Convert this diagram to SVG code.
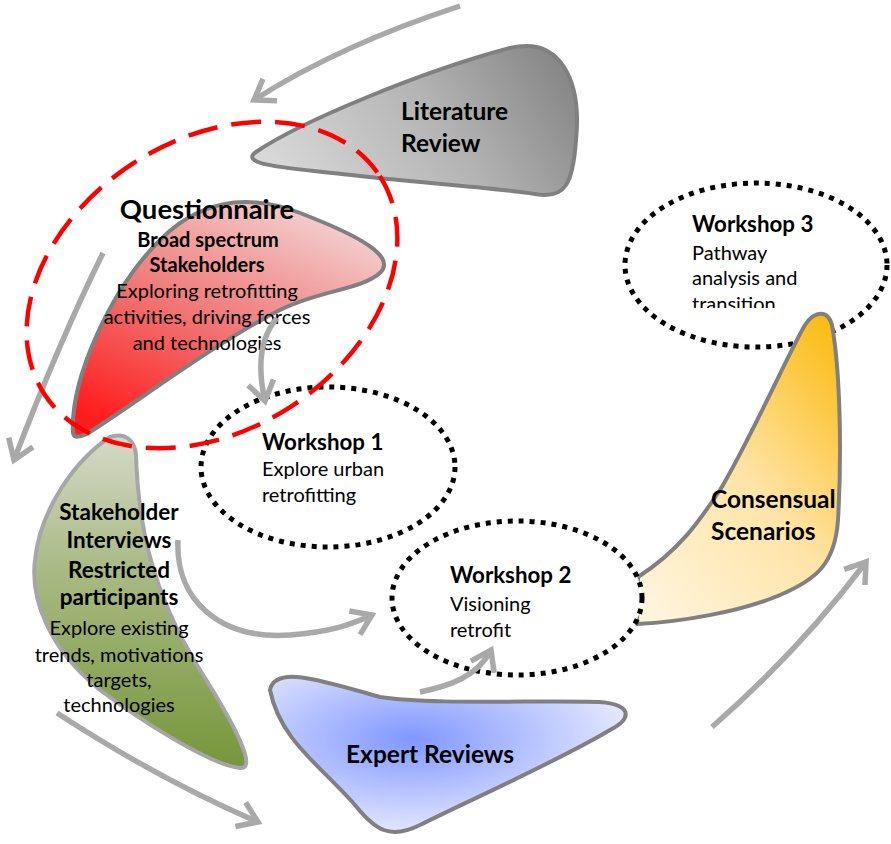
<svg xmlns="http://www.w3.org/2000/svg" width="891" height="844" viewBox="0 0 891 844">
  <style>
    text { font-family: Lato, "Liberation Sans", "DejaVu Sans", sans-serif; fill: #000; }
    .b { font-weight: bold; }
    .t { font-size: 20px; }
    .tb { font-size: 20px; font-weight: bold; }
    .gb { font-size: 22.5px; font-weight: bold; }
    .ttl { font-size: 24.5px; font-weight: bold; }
    .wt { font-size: 22.3px; font-weight: bold; }
    .mid { text-anchor: middle; }
    .blob { stroke: #808080; stroke-width: 4; stroke-linejoin: round; }
    .ws { fill: #fff; stroke: #000; stroke-width: 5; stroke-dasharray: 5 6; }
    .arr { fill: none; stroke: #a9a9a9; stroke-width: 5.5; marker-end: url(#chev); }
  </style>
  <defs>
    <marker id="chev" markerUnits="userSpaceOnUse" markerWidth="40" markerHeight="40" viewBox="-30 -20 40 40" refX="0" refY="0" orient="auto" overflow="visible">
      <path d="M -19,-13 L 0,0 L -19,13" fill="none" stroke="#a9a9a9" stroke-width="5.5" stroke-linejoin="miter"/>
    </marker>
    <linearGradient id="gLit" x1="0" y1="0.6" x2="1" y2="0.3">
      <stop offset="0" stop-color="#d8d8d8"/>
      <stop offset="0.55" stop-color="#b4b4b4"/>
      <stop offset="1" stop-color="#878787"/>
    </linearGradient>
    <linearGradient id="gQ" x1="0.8" y1="0" x2="0.2" y2="1">
      <stop offset="0" stop-color="#f4d6d6"/>
      <stop offset="0.5" stop-color="#f07c7c"/>
      <stop offset="1" stop-color="#ff1c1c"/>
    </linearGradient>
    <linearGradient id="gInt" x1="0" y1="0" x2="0" y2="1">
      <stop offset="0" stop-color="#d6d9c8"/>
      <stop offset="0.4" stop-color="#a9ba84"/>
      <stop offset="1" stop-color="#76963a"/>
    </linearGradient>
    <radialGradient id="gExp" cx="0.4" cy="0.4" r="0.6">
      <stop offset="0" stop-color="#8097ff"/>
      <stop offset="1" stop-color="#e2e6ff"/>
    </radialGradient>
    <linearGradient id="gCon" x1="0.9" y1="0" x2="0.1" y2="1">
      <stop offset="0" stop-color="#fbbc14"/>
      <stop offset="0.5" stop-color="#ffe4a8"/>
      <stop offset="1" stop-color="#fff4dc"/>
    </linearGradient>
    <clipPath id="ws3clip">
      <rect x="680" y="200" width="170" height="108"/>
    </clipPath>
  </defs>

  <rect width="891" height="844" fill="#fff"/>

  <!-- Literature Review -->
  <g id="literature-review">
    <path class="blob" fill="url(#gLit)" d="M 256,152 C 300,122 420,72 510,48 C 560,36 582,80 576,140 C 573,182 566,200 535,194 C 480,186 420,183 360,176 C 300,169 236,166 256,152 Z"/>
    <text class="ttl" x="401" y="120">Literature</text>
    <text class="ttl" x="401" y="152">Review</text>
  </g>

  <!-- Stakeholder Interviews -->
  <g id="stakeholder-interviews">
    <path fill="url(#gInt)" stroke="#a6a6a6" stroke-width="4" stroke-linejoin="round" d="M 110,437 C 125,432 135,440 136,455 C 138,520 150,590 200,670 C 235,725 258,770 240,768 C 210,765 140,720 100,690 C 50,650 30,600 35,560 C 40,510 75,460 110,437 Z"/>
    <text class="gb mid" x="119" y="520">Stakeholder</text>
    <text class="gb mid" x="119" y="548">Interviews</text>
    <text class="gb mid" x="119" y="578">Restricted</text>
    <text class="gb mid" x="119" y="605">participants</text>
    <text class="t mid" x="119" y="635">Explore existing</text>
    <text class="t mid" x="119" y="662">trends, motivations</text>
    <text class="t mid" x="119" y="687">targets,</text>
    <text class="t mid" x="119" y="712">technologies</text>
  </g>

  <!-- Questionnaire -->
  <g id="questionnaire">
    <path class="blob" fill="url(#gQ)" d="M 73,433 C 70,380 110,290 160,240 C 195,205 240,190 300,213 C 360,236 395,256 381,272 C 362,290 320,290 280,310 C 220,340 140,400 90,432 C 80,438 74,438 73,433 Z"/>
    <text class="b mid" font-size="27.5" x="207" y="219">Questionnaire</text>
    <text class="tb mid" x="208" y="247">Broad spectrum</text>
    <text class="tb mid" x="207" y="272">Stakeholders</text>
    <text class="t mid" x="207" y="298">Exploring retrofitting</text>
    <text class="t mid" x="207" y="324">activities, driving forces</text>
    <text class="t mid" x="207" y="350">and technologies</text>
  </g>

  <!-- Workshop 1 -->
  <g id="workshop-1">
    <ellipse class="ws" cx="328" cy="467" rx="127" ry="80"/>
    <text class="wt" x="262" y="450">Workshop 1</text>
    <text class="t" x="262" y="476">Explore urban</text>
    <text class="t" x="262" y="502">retrofitting</text>
  </g>

  <!-- Workshop 3 -->
  <g id="workshop-3">
    <ellipse class="ws" cx="756" cy="265" rx="131" ry="82"/>
    <g clip-path="url(#ws3clip)">
      <text class="wt" x="692" y="232">Workshop 3</text>
      <text class="t" x="692" y="260">Pathway</text>
      <text class="t" x="692" y="285">analysis and</text>
      <text class="t" x="692" y="311">transition</text>
    </g>
  </g>

  <!-- Consensual Scenarios -->
  <g id="consensual-scenarios">
    <path class="blob" fill="url(#gCon)" d="M 638,577 C 680,550 700,520 720,490 C 750,440 790,350 805,325 C 815,310 828,310 832,325 C 840,370 842,450 838,520 C 835,565 815,580 780,595 C 740,612 680,622 637,624 Z"/>
    <text class="ttl" x="711" y="508">Consensual</text>
    <text class="ttl" x="711" y="540">Scenarios</text>
  </g>

  <!-- Workshop 2 -->
  <g id="workshop-2">
    <ellipse class="ws" cx="517" cy="598" rx="125" ry="77"/>
    <text class="wt" x="450" y="583">Workshop 2</text>
    <text class="t" x="450" y="611">Visioning</text>
    <text class="t" x="450" y="637">retrofit</text>
  </g>

  <!-- Expert Reviews -->
  <g id="expert-reviews">
    <path class="blob" fill="url(#gExp)" d="M 270,690 C 275,665 320,680 380,697 C 430,705 540,700 600,702 C 635,705 630,720 610,730 C 560,760 470,800 420,825 C 390,840 375,830 355,805 C 320,765 280,740 270,690 Z"/>
    <text class="ttl" x="346" y="763">Expert Reviews</text>
  </g>

  <!-- Connectors -->
  <g id="connectors">
    <path class="arr" d="M 460,6 Q 340,45 254,100"/>
    <path class="arr" d="M 103,253 Q 60,340 14,460"/>
    <path class="arr" d="M 277,318 C 258,340 258,370 265,401"/>
    <path class="arr" d="M 178,540 C 175,600 220,640 290,635 C 330,632 350,625 372,615"/>
    <path class="arr" d="M 57,713 Q 160,780 258,822"/>
    <path class="arr" d="M 420,692 C 450,686 478,676 491,650"/>
    <path class="arr" d="M 712,727 Q 800,650 866,562"/>
  </g>

  <!-- Questionnaire focus ring -->
  <g id="questionnaire-focus">
    <ellipse cx="212" cy="285" rx="200" ry="145" transform="rotate(-33 212 285)" fill="none" stroke="#ff0000" stroke-width="4.5" stroke-dasharray="30 14"/>
  </g>
</svg>
